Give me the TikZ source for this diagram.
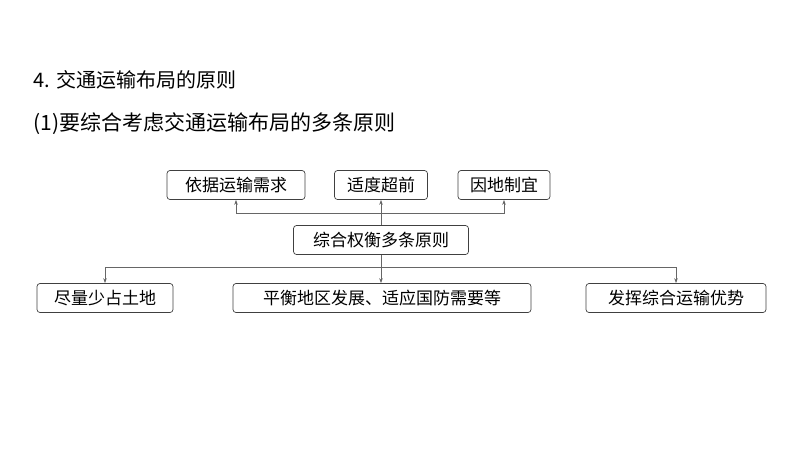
\documentclass[tikz,border=0pt]{standalone}
\usepackage{fontspec}
\setmainfont{Liberation Sans}
\newfontfamily\cjk{Noto Sans CJK SC}
\usetikzlibrary{arrows.meta}
\begin{document}
\begin{tikzpicture}[x=1pt,y=-1pt,
  bx/.style={draw=black!75,rounded corners=3pt,line width=0.7pt,minimum height=29pt,inner xsep=5pt,font=\cjk\fontsize{17}{17}\selectfont},
  ln/.style={draw=black!60,line width=0.6pt},
  ar/.style={ln,-{Stealth[length=5pt,width=3.5pt]}}]
\useasboundingbox (0,0) rectangle (800,450);
\node[anchor=west,font=\cjk\fontsize{20}{20}\selectfont] (t1) at (30,80) {4. 交通运输布局的原则};
\node[anchor=west,font=\cjk\fontsize{21}{21}\selectfont] (t2) at (30,124) {(1)要综合考虑交通运输布局的多条原则};
\node[bx,minimum width=138pt] (a) at (236,185) {依据运输需求};
\node[bx,minimum width=93pt] (b) at (381,185) {适度超前};
\node[bx,minimum width=92pt] (c) at (504,185) {因地制宜};
\node[bx,minimum width=175pt] (m) at (381,240) {综合权衡多条原则};
\node[bx,minimum width=136pt] (d) at (105,298) {尽量少占土地};
\node[bx,minimum width=298pt] (e) at (382,298) {平衡地区发展、适应国防需要等};
\node[bx,minimum width=180pt] (f) at (676,298) {发挥综合运输优势};
\coordinate (u) at (381,213);
\coordinate (v) at (381,267);
\draw[ln] (m.north) -- (u);
\draw[ar] (u) -| (a.south);
\draw[ar] (u) -| (c.south);
\draw[ar] (u) -- (b.south);
\draw[ln] (m.south) -- (v);
\draw[ar] (v) -| (d.north);
\draw[ar] (v) -| (f.north);
\draw[ar] (v) -- (v|-e.north);
\end{tikzpicture}
\end{document}
